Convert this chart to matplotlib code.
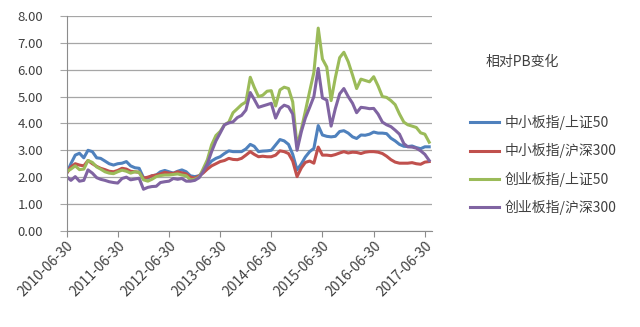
import matplotlib
matplotlib.use('Agg')
import matplotlib.pyplot as plt
import matplotlib.dates as mdates
import pandas as pd

plt.rcParams['font.family'] = ['Noto Sans CJK SC', 'DejaVu Sans']

# ==================== 数据（月末，2010-06 ~ 2017-07） ====================
dates = pd.date_range('2010-06-30', periods=86, freq='ME')

zxb_sz50 = [2.14, 2.50, 2.82, 2.89, 2.72, 3.00, 2.95, 2.72, 2.70, 2.60,
            2.50, 2.45, 2.50, 2.52, 2.58, 2.42, 2.35, 2.33, 1.98, 1.96,
            2.05, 2.08, 2.20, 2.25, 2.20, 2.15, 2.22, 2.27, 2.20, 2.05,
            2.02, 2.05, 2.20, 2.42, 2.60, 2.70, 2.76, 2.88, 2.98, 2.95,
            2.95, 2.95, 3.05, 3.22, 3.15, 2.95, 2.97, 2.98, 3.00, 3.20,
            3.40, 3.35, 3.22, 2.85, 2.27, 2.50, 2.75, 2.95, 3.07, 3.92,
            3.57, 3.52, 3.50, 3.52, 3.70, 3.73, 3.64, 3.50, 3.44, 3.57,
            3.56, 3.60, 3.68, 3.64, 3.64, 3.62, 3.45, 3.35, 3.22, 3.15,
            3.14, 3.16, 3.10, 3.06, 3.13, 3.13]

zxb_hs300 = [2.14, 2.38, 2.50, 2.45, 2.42, 2.62, 2.50, 2.40, 2.33, 2.28,
             2.22, 2.20, 2.25, 2.33, 2.30, 2.22, 2.20, 2.18, 1.96, 2.00,
             2.05, 2.08, 2.12, 2.18, 2.15, 2.14, 2.20, 2.16, 2.12, 2.00,
             1.96, 2.05, 2.15, 2.30, 2.42, 2.50, 2.58, 2.62, 2.70, 2.66,
             2.65, 2.70, 2.82, 2.95, 2.85, 2.76, 2.78, 2.76, 2.76, 2.82,
             2.98, 2.95, 2.88, 2.60, 2.02, 2.35, 2.55, 2.60, 2.52, 3.12,
             2.82, 2.82, 2.80, 2.84, 2.90, 2.95, 2.90, 2.93, 2.92, 2.88,
             2.93, 2.95, 2.95, 2.93, 2.88, 2.78, 2.65, 2.56, 2.52, 2.52,
             2.52, 2.54, 2.50, 2.48, 2.56, 2.58]

cyb_sz50 = [2.20, 2.30, 2.42, 2.28, 2.30, 2.62, 2.55, 2.38, 2.30, 2.20,
            2.15, 2.13, 2.20, 2.26, 2.22, 2.15, 2.20, 2.18, 1.90, 1.85,
            1.92, 2.02, 2.06, 2.08, 2.08, 2.10, 2.12, 2.08, 2.05, 1.90,
            1.92, 2.00, 2.30, 2.65, 3.20, 3.55, 3.70, 3.95, 4.05, 4.40,
            4.55, 4.70, 4.80, 5.72, 5.35, 5.00, 5.05, 5.20, 5.22, 4.65,
            5.25, 5.35, 5.30, 4.80, 3.15, 3.80, 4.45, 5.20, 5.90, 7.55,
            6.40, 6.10, 4.85, 5.70, 6.45, 6.65, 6.30, 5.80, 5.30, 5.65,
            5.60, 5.55, 5.74, 5.40, 5.00, 4.97, 4.85, 4.70, 4.35, 4.05,
            3.95, 3.90, 3.85, 3.65, 3.60, 3.30]

cyb_hs300 = [2.02, 1.88, 2.02, 1.85, 1.88, 2.27, 2.15, 1.98, 1.92, 1.88,
             1.83, 1.80, 1.78, 1.95, 2.00, 1.90, 1.93, 1.96, 1.55, 1.62,
             1.65, 1.66, 1.80, 1.83, 1.85, 1.95, 1.92, 1.95, 1.85, 1.85,
             1.88, 1.98, 2.20, 2.50, 2.95, 3.35, 3.64, 3.95, 4.02, 4.06,
             4.22, 4.30, 4.50, 5.15, 4.90, 4.60, 4.65, 4.70, 4.75, 4.20,
             4.55, 4.68, 4.62, 4.35, 3.00, 3.70, 4.20, 4.60, 5.00, 6.05,
             4.95, 4.87, 3.90, 4.55, 5.10, 5.30, 5.00, 4.75, 4.40, 4.60,
             4.58, 4.55, 4.56, 4.35, 4.05, 3.95, 3.88, 3.75, 3.60, 3.25,
             3.13, 3.12, 3.08, 2.98, 2.85, 2.62]

labels = ['中小板指/上证50', '中小板指/沪深300', '创业板指/上证50', '创业板指/沪深300']
colors = ['#4F81BD', '#C0504D', '#9BBB59', '#8064A2']
tick_dates = pd.to_datetime(['%d-06-30' % y for y in range(2010, 2018)])

# ==================== 绘图 ====================
fig = plt.figure(figsize=(6.4, 3.27), dpi=100)
ax = fig.add_axes([0.104, 0.294, 0.571, 0.657])

for ys, lab, c in zip([zxb_sz50, zxb_hs300, cyb_sz50, cyb_hs300], labels, colors):
    ax.plot(dates, ys, color=c, lw=2.2, label=lab, solid_joinstyle='round')

ax.set_ylim(0, 8)
ax.set_yticks(range(0, 9))
ax.yaxis.set_major_formatter(plt.FormatStrFormatter('%.2f'))
ax.set_xlim(pd.Timestamp('2010-06-30'), pd.Timestamp('2017-08-20'))
ax.set_xticks(tick_dates)
ax.xaxis.set_major_formatter(mdates.DateFormatter('%Y-%m-%d'))

ax.grid(axis='y', color='#A6A6A6', lw=0.9)
ax.set_axisbelow(True)
for s in ['top', 'right']:
    ax.spines[s].set_visible(False)
for s in ['left', 'bottom']:
    ax.spines[s].set_color('#8C8C8C')
ax.tick_params(axis='y', length=5, color='#A6A6A6', labelsize=9.5,
               labelcolor='#404040', pad=12)
ax.tick_params(axis='x', length=4, color='#8C8C8C', labelsize=10,
               labelcolor='#404040', pad=2)
for t in ax.get_xticklabels():
    t.set_rotation(45)
    t.set_ha('right')
    t.set_rotation_mode('anchor')

fig.text(0.758, 0.81, '相对PB变化', fontsize=10, color='#404040', va='center')
fig.legend(loc='upper left', bbox_to_anchor=(0.715, 0.686), frameon=False,
           fontsize=10, handlelength=2.1, handletextpad=0.4,
           labelspacing=0.95, labelcolor='#404040')

fig.savefig('out.png', dpi=100)
